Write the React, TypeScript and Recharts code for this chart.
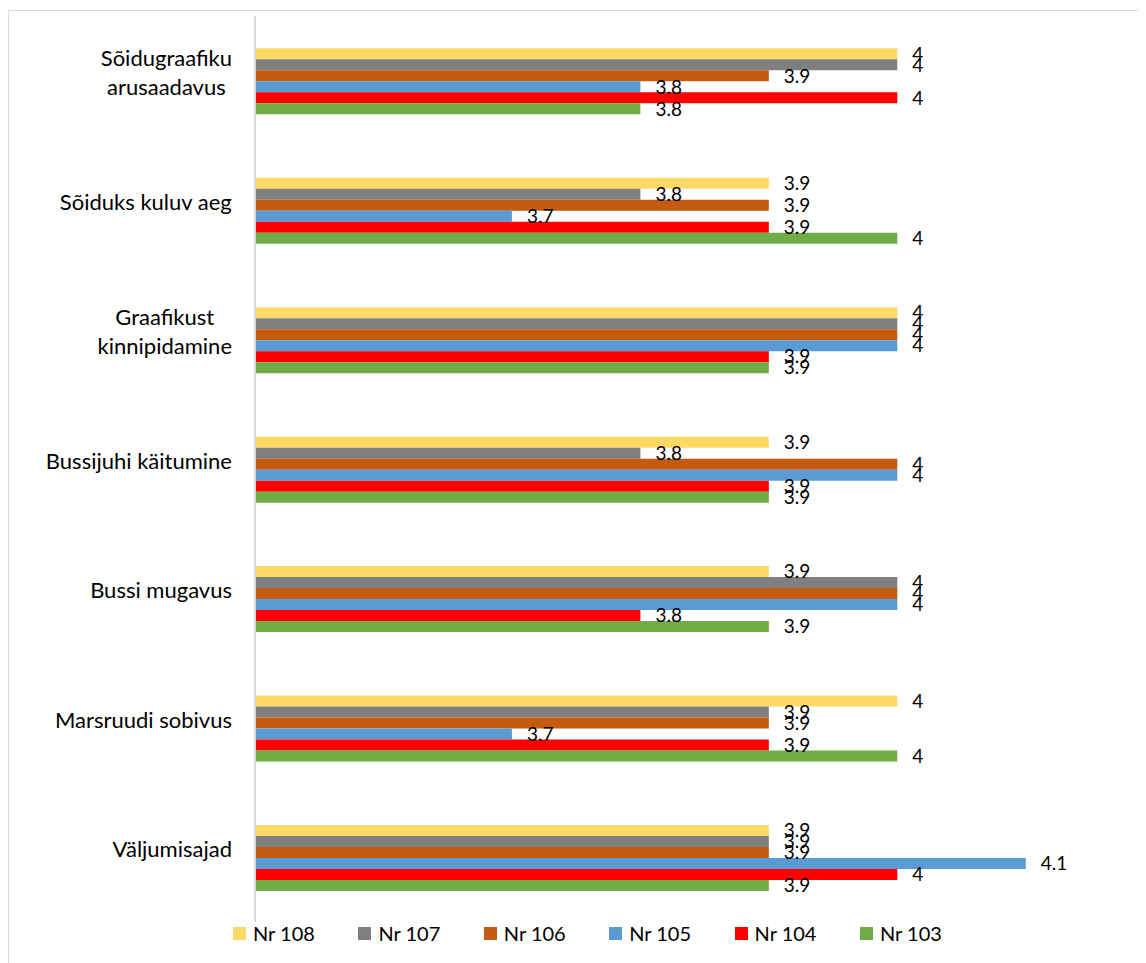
import React from "react";
import { Bar, BarChart, LabelList, Legend, XAxis, YAxis } from "recharts";

const categories = [
  "Sõidugraafiku arusaadavus",
  "Sõiduks kuluv aeg",
  "Graafikust kinnipidamine",
  "Bussijuhi käitumine",
  "Bussi mugavus",
  "Marsruudi sobivus",
  "Väljumisajad",
];

const nr108 = [4, 3.9, 4, 3.9, 3.9, 4, 3.9];
const nr107 = [4, 3.8, 4, 3.8, 4, 3.9, 3.9];
const nr106 = [3.9, 3.9, 4, 4, 4, 3.9, 3.9];
const nr105 = [3.8, 3.7, 4, 4, 4, 3.7, 4.1];
const nr104 = [4, 3.9, 3.9, 3.9, 3.8, 3.9, 4];
const nr103 = [3.8, 4, 3.9, 3.9, 3.9, 4, 3.9];

const seriesNames = ["Nr 108", "Nr 107", "Nr 106", "Nr 105", "Nr 104", "Nr 103"];
const seriesValues = [nr108, nr107, nr106, nr105, nr104, nr103];
const seriesColors = ["#FFD966", "#7F7F7F", "#C55A11", "#5B9BD5", "#FF0000", "#70AD47"];

const data = categories.map((name, i) => {
  const row: Record<string, string | number> = { name };
  seriesNames.forEach((s, j) => {
    row[s] = seriesValues[j][i];
  });
  return row;
});

const FONT = "Lato, 'Open Sans', sans-serif";
const CAT_SIZE = 22;

let ctx: CanvasRenderingContext2D | null = null;
function measure(text: string) {
  if (!ctx) ctx = document.createElement("canvas").getContext("2d");
  if (!ctx) return text.length * CAT_SIZE * 0.5;
  ctx.font = `${CAT_SIZE}px Lato`;
  return ctx.measureText(text).width;
}

function wrap(text: string, maxWidth: number) {
  const words = text.split(" ");
  const lines: string[] = [];
  let cur = "";
  for (const w of words) {
    const next = cur ? cur + " " + w : w;
    if (cur && measure(next) > maxWidth) {
      lines.push(cur);
      cur = w;
    } else {
      cur = next;
    }
  }
  if (cur) lines.push(cur);
  return lines;
}

// category labels: right-aligned block, lines centred inside it (like Excel)
const CategoryTick = (props: any) => {
  const { x, y, payload } = props;
  const lines = wrap(String(payload.value), 215);
  const blockW = Math.max(...lines.map(measure));
  const cx = x - 23 - blockW / 2;
  const lineH = 29;
  const startY = y - 9 - ((lines.length - 1) * lineH) / 2;
  return (
    <text
      x={cx}
      y={startY}
      textAnchor="middle"
      dominantBaseline="central"
      fontFamily={FONT}
      fontSize={CAT_SIZE}
      fill="#000"
    >
      {lines.map((l, i) => (
        <tspan key={i} x={cx} y={startY + i * lineH}>
          {l}
        </tspan>
      ))}
    </text>
  );
};

const LegendContent = () => (
  <div
    style={{
      display: "flex",
      height: 22,
      alignItems: "center",
      paddingLeft: 224,
      fontFamily: FONT,
      fontSize: 20,
      color: "#000",
    }}
  >
    {seriesNames.map((s, i) => (
      <div key={s} style={{ width: 125.4, display: "flex", alignItems: "center", flexShrink: 0 }}>
        <span
          style={{
            display: "inline-block",
            width: 13,
            height: 13,
            background: seriesColors[i],
            marginRight: 7,
          }}
        />
        <span>{s}</span>
      </div>
    ))}
  </div>
);

export default function App() {
  return (
    <div
      style={{
        marginTop: 2,
        borderTop: "1px solid #d9d9d9",
        borderLeft: "1px solid #d9d9d9",
        width: 1137,
        height: 952,
      }}
    >
      <BarChart
        width={1136}
        height={952}
        data={data}
        layout="vertical"
        margin={{ top: 5, right: 55, left: 0, bottom: 19 }}
        barCategoryGap="25%"
        barGap={0}
      >
        <XAxis type="number" domain={[3.5, 4.15]} hide />
        <YAxis
          type="category"
          dataKey="name"
          width={246}
          tickLine={false}
          tickSize={0}
          tickMargin={0}
          axisLine={{ stroke: "#d9d9d9", strokeWidth: 2 }}
          tick={<CategoryTick />}
          interval={0}
        />
        <Legend verticalAlign="bottom" content={<LegendContent />} />
        {seriesNames.map((s, i) => (
          <Bar key={s} dataKey={s} fill={seriesColors[i]} isAnimationActive={false}>
            <LabelList
              dataKey={s}
              position="right"
              offset={15}
              fill="#000"
              fontFamily={FONT}
              fontSize={19}
            />
          </Bar>
        ))}
      </BarChart>
    </div>
  );
}
